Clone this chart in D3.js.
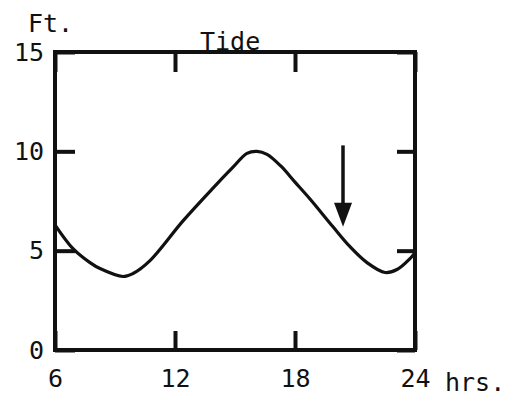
<!DOCTYPE html>
<html>
<head>
<meta charset="utf-8">
<script src="https://cdn.jsdelivr.net/npm/d3@7"></script>
<style>
  html, body { margin: 0; padding: 0; background: #fff; }
  text { font-family: "DejaVu Sans Mono", monospace; fill: #111; }
</style>
</head>
<body>
<svg id="chart" width="520" height="400"></svg>
<script>
// ---- data ----
const hours = [6, 6.9, 7.75, 8.25, 9.4, 9.9, 10.75, 12.4, 13.9, 14.9, 15.6, 16.1, 16.6, 17.3, 18.0, 18.75, 19.9, 20.75, 21.6, 22.5, 23.1, 23.75, 24];
const tideFt = [6.3, 5.1, 4.4, 4.1, 3.7, 3.85, 4.5, 6.5, 8.15, 9.2, 9.9, 10.0, 9.85, 9.25, 8.45, 7.6, 6.2, 5.2, 4.4, 3.9, 4.05, 4.6, 4.9];
const xTicks = [6, 12, 18, 24];
const yTicks = [0, 5, 10, 15];
const arrowHour = [20.4];
const arrowFrom = [10.3];
const arrowTo = [6.2];
const title = "Tide";
const yUnit = "Ft.";
const xUnit = "hrs.";

// ---- layout ----
const svg = d3.select("#chart");
const L = 55, R = 415, T = 52, B = 350;
const x = d3.scaleLinear().domain([6, 24]).range([L, R]);
const y = d3.scaleLinear().domain([0, 15]).range([B, T]);
const ink = "#111";

// axes (inward ticks)
const gB = svg.append("g").attr("transform", `translate(0,${B})`)
  .call(d3.axisBottom(x).tickValues(xTicks).tickSizeInner(-19).tickSizeOuter(0).tickFormat(d3.format("d")));
gB.selectAll("text").attr("y", 37).attr("dy", 0);
const gT = svg.append("g").attr("transform", `translate(0,${T})`)
  .call(d3.axisTop(x).tickValues(xTicks).tickSizeInner(-20).tickSizeOuter(0).tickFormat(""));
const gL = svg.append("g").attr("transform", `translate(${L},0)`)
  .call(d3.axisLeft(y).tickValues(yTicks).tickSizeInner(-20).tickSizeOuter(0).tickFormat(d3.format("d")));
gL.selectAll("text").attr("x", -11);
const gR = svg.append("g").attr("transform", `translate(${R},0)`)
  .call(d3.axisRight(y).tickValues(yTicks).tickSizeInner(-18).tickSizeOuter(0).tickFormat(""));

[gB, gT, gL, gR].forEach(g => {
  g.select(".domain").remove();
  g.selectAll("line").attr("stroke", ink).attr("stroke-width", 4);
  g.selectAll("text").style("font-size", "25px").style("font-family", "'DejaVu Sans Mono', monospace").attr("fill", ink);
});

// frame
svg.append("rect").attr("x", L).attr("y", T).attr("width", R - L).attr("height", B - T)
  .attr("fill", "none").attr("stroke", ink).attr("stroke-width", 4);

// curve
const pts = hours.map((h, i) => [h, tideFt[i]]);
svg.append("path").datum(pts)
  .attr("d", d3.line().x(d => x(d[0])).y(d => y(d[1])).curve(d3.curveCatmullRom.alpha(0.5)))
  .attr("fill", "none").attr("stroke", ink).attr("stroke-width", 3.2).attr("stroke-linejoin", "round");

// arrow
arrowHour.forEach((h, i) => {
  const ax = x(h), y0 = y(arrowFrom[i]), y1 = y(arrowTo[i]);
  svg.append("line").attr("x1", ax).attr("x2", ax).attr("y1", y0).attr("y2", y1 - 20)
    .attr("stroke", ink).attr("stroke-width", 3.5);
  svg.append("path")
    .attr("d", `M${ax - 9},${y1 - 24} L${ax + 9},${y1 - 24} L${ax},${y1} Z`)
    .attr("fill", ink);
});

// labels
svg.append("text").attr("x", 200).attr("y", 50).style("font-size", "25px").text(title);
svg.append("text").attr("x", 28).attr("y", 32).style("font-size", "25px").text(yUnit);
svg.append("text").attr("x", 445).attr("y", 391).style("font-size", "25px").text(xUnit);
</script>
</body>
</html>
